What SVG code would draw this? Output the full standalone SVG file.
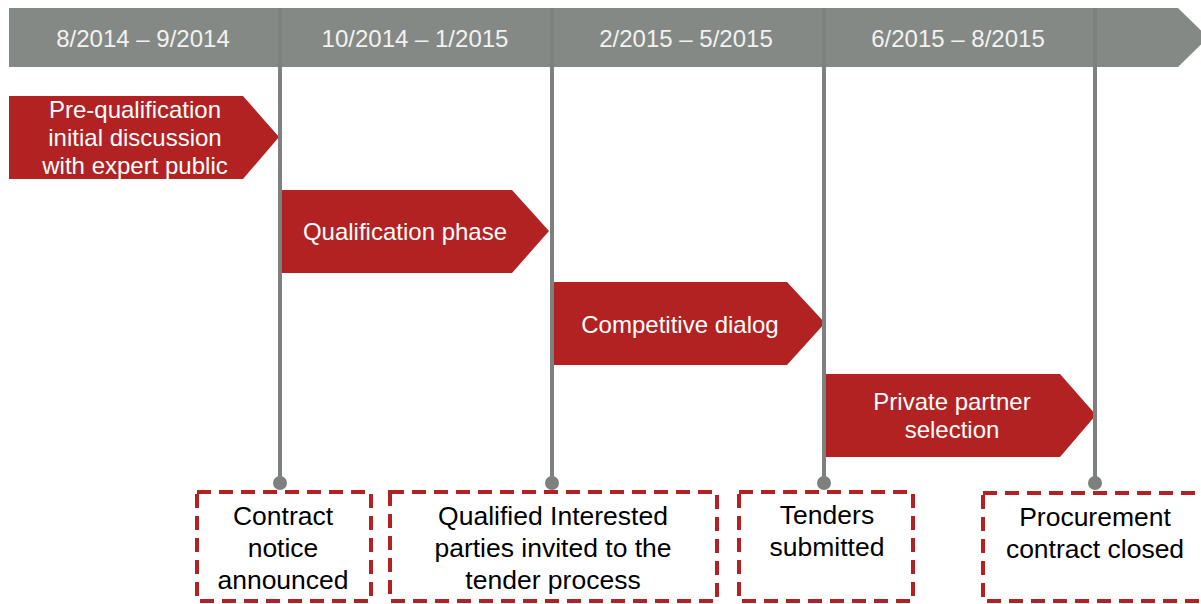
<svg xmlns="http://www.w3.org/2000/svg" width="1201" height="604" viewBox="0 0 1201 604">
<style>
.hdr{font-family:"Liberation Sans",Arial,sans-serif;font-size:24px;fill:#f2f2f2;text-anchor:middle}
.ph{fill:#b22222}
.pt{font-family:"Liberation Sans",Arial,sans-serif;font-size:24px;fill:#ffffff;text-anchor:middle}
.vl{stroke:#7d817d;stroke-width:4;fill:none}
.dot{fill:#7d817d}
.box{fill:#ffffff;stroke:#b22222;stroke-width:4;stroke-dasharray:14 8}
.bt{font-family:"Liberation Sans",Arial,sans-serif;font-size:26.5px;fill:#000000;text-anchor:middle}
</style>
<rect width="1201" height="604" fill="#ffffff"/>
<g id="timeline-bar">
<polygon points="9,8 1178,8 1208,37.5 1178,67 9,67" fill="#858985"/>
<text class="hdr" x="143" y="47">8/2014 – 9/2014</text>
<text class="hdr" x="415" y="47">10/2014 – 1/2015</text>
<text class="hdr" x="686" y="47">2/2015 – 5/2015</text>
<text class="hdr" x="958" y="47">6/2015 – 8/2015</text>
</g>
<g id="phase-prequalification">
<polygon class="ph" points="9,96 243,96 279,137 243,179 9,179"/>
<text class="pt" x="135" y="118">Pre-qualification</text>
<text class="pt" x="135" y="146">initial discussion</text>
<text class="pt" x="135" y="174">with expert public</text>
</g>
<g id="phase-qualification">
<polygon class="ph" points="278,190 512,190 549,231 512,273 278,273"/>
<text class="pt" x="405" y="240">Qualification phase</text>
</g>
<g id="phase-dialog">
<polygon class="ph" points="552,282 787,282 825,323 787,365 552,365"/>
<text class="pt" x="680" y="333">Competitive dialog</text>
</g>
<g id="phase-selection">
<polygon class="ph" points="824,374 1060,374 1096,415 1060,457 824,457"/>
<text class="pt" x="952" y="410">Private partner</text>
<text class="pt" x="952" y="438">selection</text>
</g>
<g id="connectors">
<line class="vl" x1="280" y1="8" x2="280" y2="483"/>
<line class="vl" x1="552" y1="8" x2="552" y2="483"/>
<line class="vl" x1="824" y1="8" x2="824" y2="483"/>
<line class="vl" x1="1095" y1="8" x2="1095" y2="483"/>
<circle class="dot" cx="280" cy="483" r="7"/>
<circle class="dot" cx="552" cy="483" r="7"/>
<circle class="dot" cx="824" cy="483" r="7"/>
<circle class="dot" cx="1095" cy="483" r="7"/>
</g>
<g id="milestone-contract-notice">
<rect class="box" x="197" y="492" width="174" height="109"/>
<text class="bt" x="283" y="525">Contract</text>
<text class="bt" x="283" y="557">notice</text>
<text class="bt" x="283" y="589">announced</text>
</g>
<g id="milestone-qualified">
<rect class="box" x="390" y="492" width="327" height="109"/>
<text class="bt" x="553" y="525">Qualified Interested</text>
<text class="bt" x="553" y="557">parties invited to the</text>
<text class="bt" x="553" y="589">tender process</text>
</g>
<g id="milestone-tenders">
<rect class="box" x="739" y="492" width="174" height="109"/>
<text class="bt" x="827" y="524">Tenders</text>
<text class="bt" x="827" y="556">submitted</text>
</g>
<g id="milestone-procurement">
<rect class="box" x="983" y="493" width="230" height="108"/>
<text class="bt" x="1095" y="526">Procurement</text>
<text class="bt" x="1095" y="558">contract closed</text>
</g>
</svg>
